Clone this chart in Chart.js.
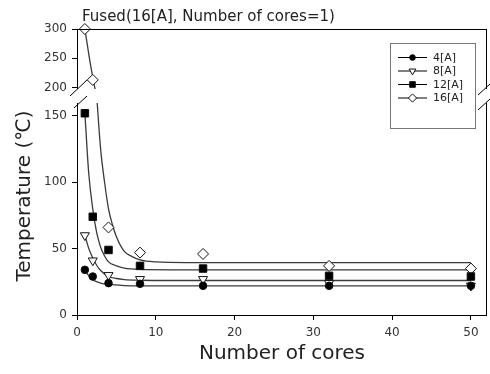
<!DOCTYPE html>
<html>
<head>
<meta charset="utf-8">
<script src="https://cdn.jsdelivr.net/npm/chart.js@4.4.0/dist/chart.umd.min.js"></script>
<style>
  html, body { margin: 0; padding: 0; background: #fff; }
  #wrap { width: 490px; height: 374px; }
</style>
</head>
<body>
<div id="wrap"><canvas id="chart" width="490" height="374"></canvas></div>
<script>
// Measured temperatures per current, by number of cores
const seriesNames = ['4[A]', '8[A]', '12[A]', '16[A]'];
const cores = [1, 2, 4, 8, 16, 32, 50];
const temp4A = [34, 29, 24, 23.5, 22, 22, 22];
const temp8A = [60, 41, 30, 27, 27, 24, 22];
const temp12A = [152, 74, 49, 37, 35, 29.5, 29];
const temp16A = [300, 213, 66, 47, 46, 37, 35];

// Fitted curves
const fit4X = [1, 1.5, 2, 3, 4, 6, 8, 12, 50];
const fit4Y = [34, 29.5, 26.5, 24, 23, 22.2, 22, 22, 22];
const fit8X = [1, 1.5, 2, 2.5, 3, 4, 5, 6, 8, 12, 50];
const fit8Y = [60, 50, 43, 37.5, 33.5, 29, 27.5, 26.7, 26.2, 26, 26];
const fit12X = [1, 1.5, 2, 2.5, 3, 3.5, 4, 5, 6, 8, 12, 50];
const fit12Y = [152, 106, 80, 62, 51, 44.5, 40, 37, 35.3, 34.3, 34, 34];
const fit16TopX = [1, 1.7, 2.4];
const fit16TopY = [300, 240, 190];
const fit16X = [2.5, 3, 3.5, 4, 4.5, 5, 6, 7, 8, 10, 14, 50];
const fit16Y = [165, 125, 100, 80, 68, 59, 48, 44, 41.5, 40, 39.5, 39.4];

// Axis ticks (broken y axis: lower and upper part)
const xTicks = [0, 10, 20, 30, 40, 50];
const yLowTicks = [0, 50, 100, 150];
const yHighTicks = [200, 250, 300];
const yLowRange = [0, 165];
const yHighRange = [185.5, 300];

const FONT = 'DejaVu Sans';
const INK = '#222';
const FRAME_RIGHT = 487;

function pts(xs, ys) {
    return xs.map((x, i) => ({ x: x, y: ys[i] }));
}

const top16 = [], low16 = [];
cores.forEach((c, i) => {
    if (temp16A[i] >= yHighRange[0]) top16.push({ x: c, y: temp16A[i] });
    else low16.push({ x: c, y: temp16A[i] });
});

const markerStyles = [
    { pointStyle: 'circle', radius: 3.8, bg: '#000', rotation: 0 },
    { pointStyle: 'triangle', radius: 5.2, bg: '#fff', rotation: 180 },
    { pointStyle: 'rect', radius: 5.3, bg: '#000', rotation: 0 },
    { pointStyle: 'rectRot', radius: 5.5, bg: '#fff', rotation: 0 }
];

function markerSet(data, k, axis) {
    const m = markerStyles[k];
    return {
        data: data,
        yAxisID: axis,
        showLine: false,
        clip: false,
        pointStyle: m.pointStyle,
        pointRadius: m.radius,
        pointRotation: m.rotation,
        pointBackgroundColor: m.bg,
        pointBorderColor: '#111',
        pointBorderWidth: 1
    };
}

function fitSet(xs, ys, axis) {
    return {
        data: pts(xs, ys),
        yAxisID: axis,
        showLine: true,
        pointRadius: 0,
        borderColor: '#3a3a3a',
        borderWidth: 1.3,
        cubicInterpolationMode: 'monotone',
        fill: false
    };
}

const datasets = [
    markerSet(pts(cores, temp4A), 0, 'y'),
    markerSet(pts(cores, temp8A), 1, 'y'),
    markerSet(pts(cores, temp12A), 2, 'y'),
    markerSet(low16, 3, 'y'),
    markerSet(top16, 3, 'y2'),
    fitSet(fit4X, fit4Y, 'y'),
    fitSet(fit8X, fit8Y, 'y'),
    fitSet(fit12X, fit12Y, 'y'),
    fitSet(fit16X, fit16Y, 'y'),
    fitSet(fit16TopX, fit16TopY, 'y2')
];

function line(ctx, x1, y1, x2, y2) {
    ctx.beginPath();
    ctx.moveTo(x1, y1);
    ctx.lineTo(x2, y2);
    ctx.stroke();
}

// Frame, axis break, titles and legend
const decorPlugin = {
    id: 'decor',
    afterDraw(chart) {
        const ctx = chart.ctx;
        const a = chart.chartArea;
        ctx.save();
        ctx.strokeStyle = '#000';
        ctx.lineWidth = 1;
        line(ctx, a.left, a.top + 0.5, FRAME_RIGHT, a.top + 0.5);
        line(ctx, FRAME_RIGHT - 0.5, a.top, FRAME_RIGHT - 0.5, a.bottom + 1);
        line(ctx, a.right - 1, a.bottom + 0.5, FRAME_RIGHT, a.bottom + 0.5);

        // gap of the broken axis
        ctx.fillStyle = '#fff';
        ctx.fillRect(70, 89, 420, 14);
        ctx.strokeStyle = '#000';
        line(ctx, 70, 96, 87, 80);
        line(ctx, 74, 108, 87, 96);
        line(ctx, 478, 95, 490, 84);
        line(ctx, 478, 110, 490, 99);

        // texts
        ctx.fillStyle = INK;
        ctx.textBaseline = 'alphabetic';
        ctx.textAlign = 'left';
        ctx.font = '15px "' + FONT + '"';
        ctx.fillText('Fused(16[A], Number of cores=1)', 82, 21);
        ctx.font = '20px "' + FONT + '"';
        ctx.textAlign = 'center';
        ctx.fillText('Number of cores', 282, 359);
        ctx.save();
        ctx.translate(29.5, 196);
        ctx.rotate(-Math.PI / 2);
        ctx.fillText('Temperature (\u2103)', 0, 0);
        ctx.restore();

        // legend
        ctx.fillStyle = '#fff';
        ctx.fillRect(390, 43, 85, 85);
        ctx.strokeStyle = '#777';
        ctx.strokeRect(390.5, 43.5, 85, 85);
        const rows = [57, 70.5, 84, 97.5];
        ctx.font = '11px "' + FONT + '"';
        ctx.textAlign = 'left';
        ctx.textBaseline = 'middle';
        seriesNames.forEach((name, i) => {
            const m = markerStyles[i];
            ctx.strokeStyle = '#000';
            ctx.lineWidth = 1;
            line(ctx, 398, rows[i] + 0.5, 427, rows[i] + 0.5);
            ctx.fillStyle = m.bg;
            ctx.strokeStyle = '#111';
            Chart.helpers.drawPoint(ctx, {
                pointStyle: m.pointStyle,
                radius: m.radius * 0.75,
                rotation: m.rotation,
                borderWidth: 1
            }, 412.5, rows[i] + 0.5);
            ctx.fillStyle = INK;
            ctx.fillText(name, 433, rows[i] + 1);
        });
        ctx.restore();
    }
};

function fixedTicks(list) {
    return function(scale) {
        scale.ticks = list.map(v => ({ value: v }));
    };
}

const tickFont = { family: FONT, size: 12 };

new Chart(document.getElementById('chart'), {
    type: 'scatter',
    data: { datasets: datasets },
    options: {
        responsive: false,
        animation: false,
        devicePixelRatio: 1,
        layout: { padding: { top: 29, right: 0, left: 0, bottom: 0 } },
        plugins: {
            legend: { display: false },
            tooltip: { enabled: false }
        },
        scales: {
            x: {
                type: 'linear',
                min: 0,
                max: 51.6,
                afterBuildTicks: fixedTicks(xTicks),
                afterFit: s => { s.height = 59; },
                grid: { drawOnChartArea: false, tickLength: 5, tickColor: '#000' },
                border: { color: '#000', width: 1 },
                ticks: { font: tickFont, color: '#333', padding: 6, maxRotation: 0 }
            },
            y: {
                type: 'linear',
                position: 'left',
                stack: 'temp',
                stackWeight: 219,
                min: yLowRange[0],
                max: yLowRange[1],
                afterBuildTicks: fixedTicks(yLowTicks),
                afterFit: s => { s.width = 77; },
                grid: { drawOnChartArea: false, tickLength: 5, tickColor: '#000' },
                border: { color: '#000', width: 1 },
                ticks: { font: tickFont, color: '#333', padding: 5 }
            },
            y2: {
                type: 'linear',
                position: 'left',
                stack: 'temp',
                stackWeight: 67,
                min: yHighRange[0],
                max: yHighRange[1],
                afterBuildTicks: fixedTicks(yHighTicks),
                afterFit: s => { s.width = 77; },
                grid: { drawOnChartArea: false, tickLength: 5, tickColor: '#000' },
                border: { color: '#000', width: 1 },
                ticks: { font: tickFont, color: '#333', padding: 5 }
            }
        }
    },
    plugins: [decorPlugin]
});
</script>
</body>
</html>
